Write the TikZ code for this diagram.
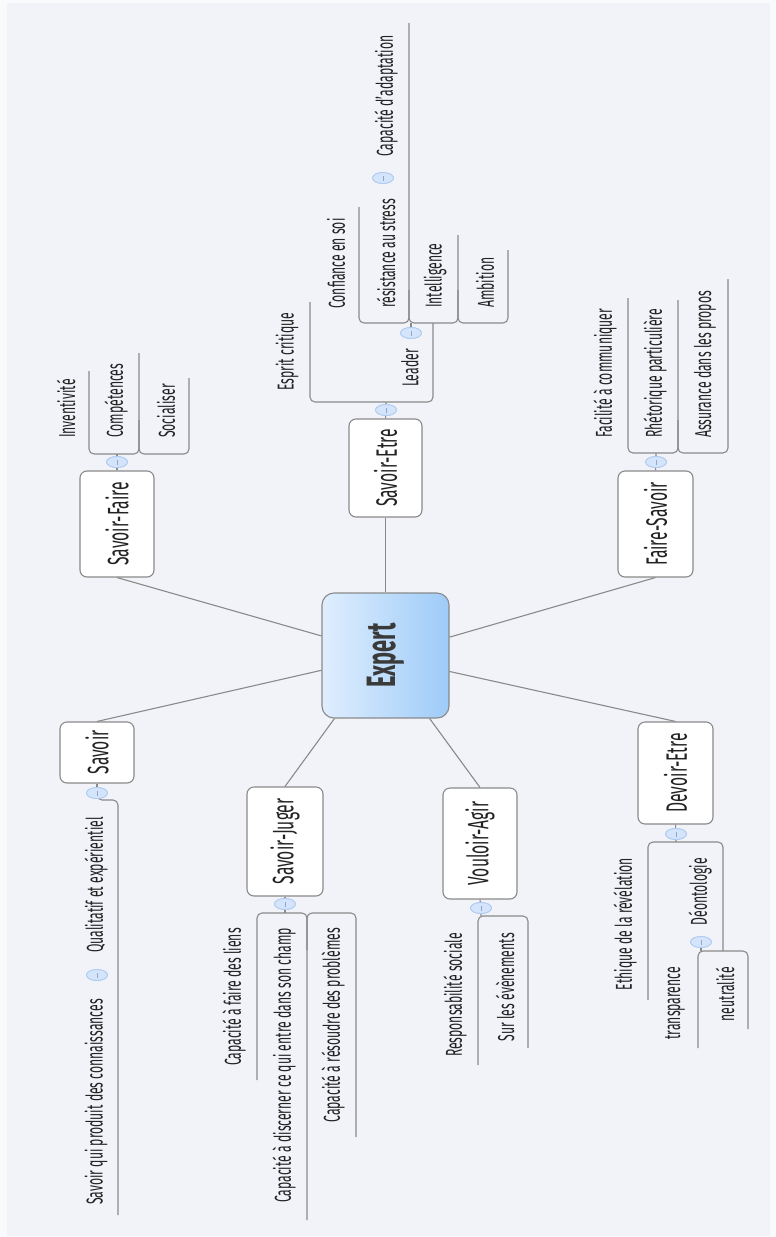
\documentclass[tikz,border=0pt]{standalone}
\usepackage{fontspec}
\setmainfont{Fira Sans}[FakeStretch=0.53]
\usetikzlibrary{shapes.geometric}
\definecolor{bg}{HTML}{F1F3F9}
\definecolor{outer}{HTML}{F9FAFC}
\definecolor{lin}{HTML}{8A8A8A}
\definecolor{txt}{HTML}{222222}
\definecolor{exT}{HTML}{3A3A3A}
\definecolor{elf}{HTML}{D3E4FB}
\definecolor{eld}{HTML}{AFCBF1}
\definecolor{tick}{HTML}{8FA6C8}
\definecolor{exL}{HTML}{DFEEFE}
\definecolor{exR}{HTML}{9ECBF8}
\begin{document}
\begin{tikzpicture}[x=1pt,y=-1pt,
  conn/.style={draw=lin, line width=1.1pt},
  bracket/.style={draw=lin, line width=1.1pt, rounded corners=5pt},
  leaf/.style={rotate=90, inner sep=0pt, text=txt, font=\fontsize{23}{26}\selectfont},
  leafup/.style={leaf, anchor=west},
  leafdown/.style={leaf, anchor=east},
  topic/.style={draw=lin, fill=white, line width=1.1pt, rounded corners=7pt, inner sep=0pt, text=txt, font=\fontsize{29.5}{32}\selectfont},
  foldmark/.style={ellipse, fill=elf, draw=eld, line width=0.8pt, minimum width=21pt, minimum height=11pt, inner sep=0pt,
    path picture={\draw[tick, line width=0.8pt] ([yshift=-2.5pt]path picture bounding box.center) -- ([yshift=2.5pt]path picture bounding box.center);}},
]
\useasboundingbox (0,0) rectangle (776,1237);
\fill[outer] (0,0) rectangle (776,1237);
\fill[bg] (7,3) rectangle (770,1236);

% central node
\node[draw=lin, line width=1.1pt, rounded corners=12pt, left color=exL, right color=exR,
  minimum width=127pt, minimum height=125pt, inner sep=0pt, text=exT,
  font=\fontsize{41}{44}\selectfont\bfseries] (expert) at (385.5,655.5) {\rotatebox{90}{Expert}};

% main topics
\node[topic, minimum width=74pt, minimum height=106pt] (sf) at (117,524) {\rotatebox{90}{Savoir-Faire}};
\node[topic, minimum width=74pt, minimum height=61pt] (sav) at (97,752.5) {\rotatebox{90}{Savoir}};
\node[topic, minimum width=73pt, minimum height=98pt] (se) at (385.5,468) {\rotatebox{90}{Savoir-Etre}};
\node[topic, minimum width=75pt, minimum height=106pt] (fs) at (655.5,524) {\rotatebox{90}{Faire-Savoir}};
\node[topic, minimum width=75pt, minimum height=102pt] (de) at (675.5,773) {\rotatebox{90}{Devoir-Etre}};
\node[topic, minimum width=76pt, minimum height=109pt] (sj) at (285,841.5) {\rotatebox{90}{Savoir-Juger}};
\node[topic, minimum width=74pt, minimum height=111pt] (va) at (480,843.5) {\rotatebox{90}{Vouloir-Agir}};

% connectors from the centre
\draw[conn] (expert.163.8) -- (sf.south);
\draw[conn] (expert.193.7) -- (sav.north);
\draw[conn] (expert.north) -- (se.south);
\draw[conn] (expert.16.2) -- (fs.south);
\draw[conn] (expert.346.3) -- (de.north);
\draw[conn] (expert.231.1) -- (sj.north);
\draw[conn] (expert.305.5) -- (va.north);

% fold markers
\node[foldmark] (sfE) at (117,462) {};
\node[foldmark] (savE) at (97,793) {};
\node[foldmark] (seE) at (386,410) {};
\node[foldmark] (fsE) at (656,462) {};
\node[foldmark] (deE) at (676,834) {};
\node[foldmark] (sjE) at (285,904) {};
\node[foldmark] (vaE) at (481,908) {};
\node[foldmark] (ldE) at (411,333) {};
\node[foldmark] (rsE) at (383,178) {};
\node[foldmark] (sqE) at (97,975) {};
\node[foldmark] (dtE) at (701,942) {};

% base points
\coordinate (sfB) at (117,454);
\coordinate (seB) at (386,402);
\coordinate (fsB) at (656,453);
\coordinate (sjB) at (285,913);
\coordinate (vaB) at (481,916);
\coordinate (deB) at (676,842);
\coordinate (ldB) at (411,323);
\coordinate (dtB) at (701,951);

\draw[conn] (sf.north) -- (sfE) -- (sfB);
\draw[conn] (se.north) -- (seE) -- (seB);
\draw[conn] (fs.north) -- (fsE) -- (fsB);
\draw[conn] (sj.south) -- (sjE) -- (sjB);
\draw[conn] (va.south) -- (vaE) -- (vaB);
\draw[conn] (de.south) -- (deE) -- (deB);
\draw[conn] (sav.south) -- (savE);
\draw[conn] (ldE) -- (ldB);
\draw[conn] (dtE) -- (dtB);

% leaf texts
\node[leafup] (t1) at (66,438) {Inventivité};
\node[leafup] (t2) at (116,438) {Compétences};
\node[leafup] (t3) at (166,438) {Socialiser};

\node[leafup] (t4) at (287,391) {Esprit critique};
\node[leafup] (t5) at (410,387) {Leader};
\node[leafup] (t6) at (336,309) {Confiance en soi};
\node[leafup] (t7) at (386,308) {résistance au stress};
\node[leafup] (t8) at (386,157) {Capacité d'adaptation};
\node[leafup] (t9) at (435,308) {Intelligence};
\node[leafup] (t10) at (485,308) {Ambition};

\node[leafup] (t11) at (605,438) {Facilité à communiquer};
\node[leafup] (t12) at (655,438) {Rhétorique particulière};
\node[leafup] (t13) at (705,438) {Assurance dans les propos};

\node[leafdown] (t14) at (96,817) {Qualitatif et expérientiel};
\node[leafdown] (t15) at (96,999) {Savoir qui produit des connaissances};

\node[leafdown] (t16) at (234,928) {Capacité à faire des liens};
\node[leafdown] (t17) at (284,928) {Capacité à discerner ce qui entre dans son champ};
\node[leafdown] (t18) at (333,928) {Capacité à résoudre des problèmes};

\node[leafdown] (t19) at (455,933) {Responsabilité sociale};
\node[leafdown] (t20) at (505,933) {Sur les évènements};

\node[leafdown] (t21) at (625,858) {Ethique de la révélation};
\node[leafdown] (t22) at (700,858) {Déontologie};
\node[leafdown] (t23) at (675,967) {transparence};
\node[leafdown] (t24) at (725,967) {neutralité};

% brackets (underlines)
\draw[bracket] (89,371) -- (89,454) -- (139,454) -- (139,353);
\draw[bracket] (139,420) -- (139,454) -- (189,454) -- (189,378);

\draw[bracket] (310,302) -- (310,402) -- (433,402) -- (433,323);
\draw[bracket] (359,207) -- (359,323) -- (409,323) -- (409,23);
\draw[bracket] (409,290) -- (409,323) -- (458,323) -- (458,235);
\draw[bracket] (458,290) -- (458,323) -- (508,323) -- (508,250);

\draw[bracket] (628,298) -- (628,453) -- (678,453) -- (678,300);
\draw[bracket] (678,420) -- (678,453) -- (728,453) -- (728,279);

\draw[bracket] (savE) -- (97,800) -- (118,800) -- (118,1215);

\draw[bracket] (257,1080) -- (257,913) -- (307,913) -- (307,1220);
\draw[bracket] (307,950) -- (307,913) -- (356,913) -- (356,1137);

\draw[bracket] (478,1065) -- (478,916) -- (528,916) -- (528,1048);

\draw[bracket] (648,1000) -- (648,842) -- (723,842) -- (723,951);
\draw[bracket] (698,1048) -- (698,951) -- (748,951) -- (748,1029);

% redraw fold markers on top
\foreach \n in {sfE,savE,seE,fsE,deE,sjE,vaE,ldE,rsE,sqE,dtE}{
  \node[foldmark] at (\n) {};
}
\end{tikzpicture}
\end{document}
